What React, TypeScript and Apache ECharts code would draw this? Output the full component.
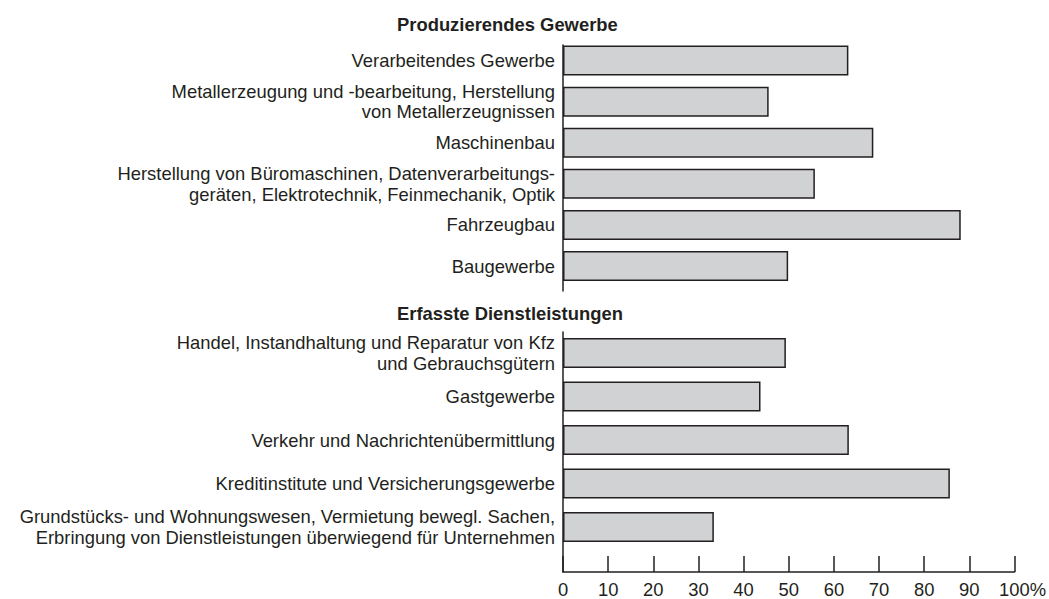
import React, { useEffect, useRef } from "react";
import * as echarts from "echarts";

const topHeader = "Produzierendes Gewerbe";
const bottomHeader = "Erfasste Dienstleistungen";

const topCategories = [
  "Verarbeitendes Gewerbe",
  "Metallerzeugung und -bearbeitung, Herstellung\nvon Metallerzeugnissen",
  "Maschinenbau",
  "Herstellung von Büromaschinen, Datenverarbeitungs-\ngeräten, Elektrotechnik, Feinmechanik, Optik",
  "Fahrzeugbau",
  "Baugewerbe",
];
const topValues = [63.0, 45.4, 68.5, 55.6, 87.8, 49.7];

const bottomCategories = [
  "Handel, Instandhaltung und Reparatur von Kfz\nund Gebrauchsgütern",
  "Gastgewerbe",
  "Verkehr und Nachrichtenübermittlung",
  "Kreditinstitute und Versicherungsgewerbe",
  "Grundstücks- und Wohnungswesen, Vermietung bewegl. Sachen,\nErbringung von Dienstleistungen überwiegend für Unternehmen",
];
const bottomValues = [49.2, 43.6, 63.1, 85.4, 33.3];

const axisMin = 0;
const axisMax = 100;
const axisInterval = 10;

const FONT = "'Liberation Sans', Arial, Helvetica, sans-serif";
const INK = "#231f20";
const FILL = "#d1d2d4";
const FS = 18.4;
const LH = 20.6;

export default function App() {
  const ref = useRef<HTMLDivElement>(null);

  useEffect(() => {
    if (!ref.current) return;
    const chart = echarts.init(ref.current, undefined, { renderer: "svg" });

    const left = 563;
    const width = 453;

    const hiddenX = (gridIndex: number) => ({
      type: "value" as const,
      gridIndex,
      min: axisMin,
      max: axisMax,
      show: false,
    });

    const catY = (gridIndex: number, data: string[]) => ({
      type: "category" as const,
      gridIndex,
      inverse: true,
      data,
      axisLine: { show: false },
      axisTick: { show: false },
      axisLabel: {
        margin: 8,
        fontSize: FS,
        lineHeight: LH,
        color: INK,
        fontFamily: FONT,
        align: "right" as const,
      },
    });

    const barStyle = {
      color: FILL,
      borderColor: INK,
      borderWidth: 1.5,
    };

    chart.setOption({
      animation: false,
      backgroundColor: "#ffffff",
      textStyle: { fontFamily: FONT },
      grid: [
        { left, width, top: 40, height: 246.6 },
        { left, width, top: 331.25, height: 217.5 },
        { left, width, top: 332, height: 240 },
        { left, width, top: 45, height: 246 },
      ],
      xAxis: [
        hiddenX(0),
        hiddenX(1),
        {
          type: "value",
          gridIndex: 2,
          min: axisMin,
          max: axisMax,
          interval: axisInterval,
          axisLine: { show: true, lineStyle: { color: INK, width: 1.5 } },
          axisTick: { show: true, inside: true, length: 16, lineStyle: { color: INK, width: 1.5 } },
          splitLine: { show: false },
          axisLabel: {
            margin: 8,
            fontSize: FS,
            color: INK,
            fontFamily: FONT,
            formatter: (v: number) => (v === axisMax ? "{p|" + v + "%}" : String(v)),
            rich: {
              p: { fontSize: FS, color: INK, fontFamily: FONT, padding: [0, 0, 0, 16] },
            },
          },
        },
        hiddenX(3),
      ],
      yAxis: [
        catY(0, topCategories),
        catY(1, bottomCategories),
        {
          type: "value",
          gridIndex: 2,
          axisLine: { show: true, lineStyle: { color: INK, width: 1.5 } },
          axisTick: { show: false },
          axisLabel: { show: false },
          splitLine: { show: false },
        },
        {
          type: "value",
          gridIndex: 3,
          axisLine: { show: true, lineStyle: { color: INK, width: 1.5 } },
          axisTick: { show: false },
          axisLabel: { show: false },
          splitLine: { show: false },
        },
      ],
      series: [
        {
          type: "bar",
          xAxisIndex: 0,
          yAxisIndex: 0,
          data: topValues,
          barWidth: 30,
          itemStyle: barStyle,
          silent: true,
        },
        {
          type: "bar",
          xAxisIndex: 1,
          yAxisIndex: 1,
          data: bottomValues,
          barWidth: 30,
          itemStyle: barStyle,
          silent: true,
        },
      ],
      graphic: [
        {
          type: "text",
          left: 397,
          top: 15,
          style: {
            text: topHeader,
            fontSize: FS,
            fontWeight: "bold",
            fontFamily: FONT,
            fill: INK,
          },
        },
        {
          type: "text",
          left: 397,
          top: 304,
          style: {
            text: bottomHeader,
            fontSize: FS,
            fontWeight: "bold",
            fontFamily: FONT,
            fill: INK,
          },
        },
      ],
    });

    return () => chart.dispose();
  }, []);

  return (
    <div
      ref={ref}
      style={{ position: "fixed", left: 0, top: 0, width: 1049, height: 599 }}
    />
  );
}
